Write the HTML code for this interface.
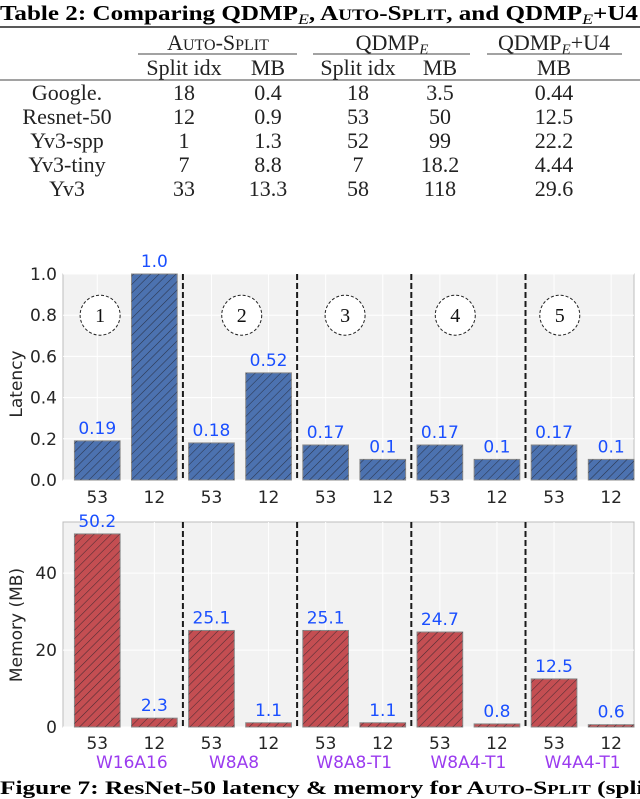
<!DOCTYPE html>
<html><head><meta charset="utf-8"><style>
body{margin:0;background:#fff}
svg{display:block}
.sv{font-family:"Liberation Serif",serif}
.sn{font-family:"DejaVu Sans","Liberation Sans",sans-serif}
</style></head><body>
<svg id="fig" width="640" height="799" viewBox="0 0 640 799" xmlns="http://www.w3.org/2000/svg">
<defs>
<pattern id="hatch" patternUnits="userSpaceOnUse" width="6" height="6" patternTransform="rotate(45)">
<line x1="0" y1="0" x2="0" y2="6" stroke="#1e1e28" stroke-width="1.1" stroke-opacity="0.75"/>
</pattern>
</defs>
<g class="sv">
<text x="0" y="20" font-size="21" font-weight="bold" textLength="638" lengthAdjust="spacingAndGlyphs">Table 2: Comparing QDMP<tspan font-style="italic" font-weight="normal" font-size="15" dy="4">E</tspan><tspan dy="-4">, A</tspan><tspan font-size="16">UTO</tspan>-S<tspan font-size="16">PLIT</tspan>, and QDMP<tspan font-style="italic" font-weight="normal" font-size="15" dy="4">E</tspan><tspan dy="-4">+U4</tspan></text>
<line x1="0" y1="27" x2="640" y2="27" stroke="#222" stroke-width="1.5"/>
<g font-size="22" text-anchor="middle" fill="#222">
<text x="218" y="50">A<tspan font-size="16">UTO</tspan>-S<tspan font-size="16">PLIT</tspan></text>
<text x="392" y="50">QDMP<tspan font-style="italic" font-size="15" dy="4">E</tspan></text>
<text x="554" y="50">QDMP<tspan font-style="italic" font-size="15" dy="4">E</tspan><tspan dy="-4">+U4</tspan></text>
<line x1="138" y1="54" x2="297" y2="54" stroke="#444" stroke-width="1"/>
<line x1="313" y1="54" x2="470" y2="54" stroke="#444" stroke-width="1"/>
<line x1="487" y1="54" x2="622" y2="54" stroke="#444" stroke-width="1"/>
<text x="184" y="75">Split idx</text><text x="268" y="75">MB</text>
<text x="358" y="75">Split idx</text><text x="440" y="75">MB</text>
<text x="554" y="75">MB</text>
<line x1="0" y1="80" x2="640" y2="80" stroke="#444" stroke-width="1"/>
</g>
<g id="tbody" font-size="22" text-anchor="middle" fill="#222"></g>
</g>
<g id="top"></g>
<g id="bot"></g>
<text class="sv" x="0" y="794" font-size="19" font-weight="bold" textLength="652" lengthAdjust="spacingAndGlyphs">Figure 7: ResNet-50 latency &amp; memory for A<tspan font-size="14">UTO</tspan>-S<tspan font-size="14">PLIT</tspan> (split</text>
</svg>
<script>
const tableRows = [["Google.","18","0.4","18","3.5","0.44"],["Resnet-50","12","0.9","53","50","12.5"],["Yv3-spp","1","1.3","52","99","22.2"],["Yv3-tiny","7","8.8","7","18.2","4.44"],["Yv3","33","13.3","58","118","29.6"]];
const xTicks = ["53","12","53","12","53","12","53","12","53","12"];
const latency = [0.19,1.0,0.18,0.52,0.17,0.1,0.17,0.1,0.17,0.1];
const latencyLabels = ["0.19","1.0","0.18","0.52","0.17","0.1","0.17","0.1","0.17","0.1"];
const memory = [50.2,2.3,25.1,1.1,25.1,1.1,24.7,0.8,12.5,0.6];
const memoryLabels = ["50.2","2.3","25.1","1.1","25.1","1.1","24.7","0.8","12.5","0.6"];
const groups = ["W16A16","W8A8","W8A8-T1","W8A4-T1","W4A4-T1"];
const circleLabels = ["1","2","3","4","5"];
const circleX = [0.05,2.53,4.34,6.27,8.1];
const latTicks = [0,0.2,0.4,0.6,0.8,1.0];
const latTickLabels = ["0.0","0.2","0.4","0.6","0.8","1.0"];
const memTicks = [0,20,40];
const memTickLabels = ["0","20","40"];

const NS="http://www.w3.org/2000/svg";
function mk(tag,attrs,parent,text){const e=document.createElementNS(NS,tag);for(const k in attrs)e.setAttribute(k,attrs[k]);if(text!==undefined)e.textContent=text;parent.appendChild(e);return e;}

const tb=document.getElementById('tbody');
const colX=[67,184,268,358,440,554];
tableRows.forEach((r,i)=>{r.forEach((c,j)=>{
  const t=mk('text',{x:colX[j],y:100+i*24},tb,c);
  
  
});});

const X0=63,X1=634;
function xs(i){return X0+(i+0.6)*(X1-X0)/10;}
const bw=0.8*(X1-X0)/10;

function chart(g,top,bot,ymax,vals,labels,ticks,tickLabels,color,ylabel,ylabelY,tickY){
  const ys=v=>bot-(v/ymax)*(bot-top);
  const bg=mk('rect',{x:X0,y:top,width:X1-X0,height:bot-top,fill:'#f2f2f2',stroke:'#bdbdbd','stroke-width':1},g);
  
  
  ticks.forEach((t,i)=>{
    mk('line',{x1:X0,x2:X1,y1:ys(t),y2:ys(t),stroke:'#fff','stroke-width':1},g);
    const tl=mk('text',{x:X0-6,y:ys(t)+6,'font-size':17,'text-anchor':'end',fill:'#262626',class:'sn'},g,tickLabels[i]);
    
    
  });
  for(let i=0;i<10;i++) mk('line',{x1:xs(i),x2:xs(i),y1:top,y2:bot,stroke:'#fff','stroke-width':1},g);
  vals.forEach((v,i)=>{
    const x=xs(i)-bw/2,y=ys(v);
    const b=mk('rect',{x:x,y:y,width:bw,height:bot-y,fill:color,stroke:'#888','stroke-width':1},g);
    
    
    mk('rect',{x:x,y:y,width:bw,height:bot-y,fill:'url(#hatch)'},g);
    const lb=mk('text',{x:xs(i),y:y-7,'font-size':17,'text-anchor':'middle',fill:'#1a4fff',class:'sn'},g,labels[i]);
    
    
    const xt=mk('text',{x:xs(i),y:tickY,'font-size':17,'text-anchor':'middle',fill:'#262626',class:'sn'},g,xTicks[i]);
    
    
  });
  [1.5,3.5,5.5,7.5].forEach(d=>{
    const ln=mk('line',{x1:xs(d),x2:xs(d),y1:top,y2:bot,stroke:'#1a1a1a','stroke-width':2,'stroke-dasharray':'6,3'},g);
    
    
  });
  const yl=mk('text',{x:0,y:0,'font-size':17,'text-anchor':'middle',fill:'#262626',class:'sn',transform:`translate(22,${ylabelY}) rotate(-90)`},g,ylabel);
  
  
  return ys;
}
const topG=document.getElementById('top');
const ysT=chart(topG,274,480,1.0,latency,latencyLabels,latTicks,latTickLabels,'#4c72b0','Latency',384,503);
circleLabels.forEach((c,i)=>{
  const cx=xs(circleX[i]),cy=ysT(0.8);
  const ci=mk('circle',{cx:cx,cy:cy,r:20,fill:'#fff',stroke:'#222','stroke-width':1,'stroke-dasharray':'3,2'},topG);
  
  
  mk('text',{x:cx,y:cy+7,'font-size':20,'text-anchor':'middle',fill:'#111',class:'sv'},topG,c);
});
const botG=document.getElementById('bot');
chart(botG,522,727,53.3,memory,memoryLabels,memTicks,memTickLabels,'#c44e52','Memory (MB)',625,749);
const groupShift=[6,-6,0,0,0];
groups.forEach((gname,i)=>{
  const t=mk('text',{x:xs(i*2+0.5)+groupShift[i],y:768,'font-size':17,'text-anchor':'middle',fill:'#9b3bef',class:'sn'},botG,gname);
  
  
});
</script>
</body></html>
